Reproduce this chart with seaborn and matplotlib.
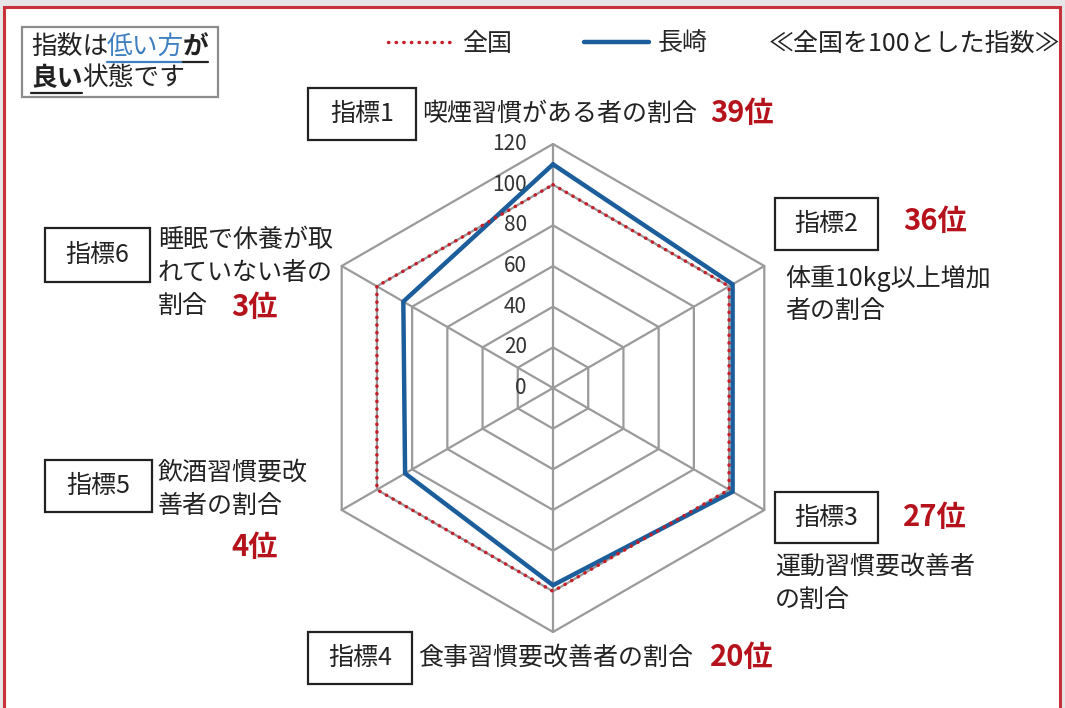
import numpy as np
import matplotlib
matplotlib.use("Agg")
import matplotlib.pyplot as plt
import matplotlib.transforms as mtransforms
from matplotlib.lines import Line2D
from matplotlib.patches import Rectangle
import pandas as pd
import seaborn as sns

# data (全国 = 100)
indicators = ['指標1', '指標2', '指標3', '指標4', '指標5', '指標6']
national = [100, 100, 100, 100, 100, 100]
nagasaki = [110, 102, 102, 97, 84, 85]
ranks = ['39位', '36位', '27位', '20位', '4位', '3位']
r_ticks = [0, 20, 40, 60, 80, 100, 120]
descriptions = [
    ['喫煙習慣がある者の割合'],
    ['体重10kg以上増加', '者の割合'],
    ['運動習慣要改善者', 'の割合'],
    ['食事習慣要改善者の割合'],
    ['飲酒習慣要改', '善者の割合'],
    ['睡眠で休養が取', 'れていない者の', '割合'],
]
series_names = ['全国', '長崎']

# layout (pixel positions on the 1065x708 canvas, y from top)
W, H = 1065, 708
box_pos = [(308, 88, 416, 140), (775, 198, 878, 250), (775, 492, 878, 543),
           (308, 632, 412, 684), (45, 460, 152, 512), (45, 228, 150, 282)]
desc_pos = [(422, 114), (785, 278), (775, 567), (418, 658), (158, 473), (158, 240)]
rank_pos = [(710, 113), (903, 221), (903, 517), (710, 657), (231, 547), (231, 307)]

RED = '#c41f2a'
BLUE = '#1b5e9b'
RANK = '#b5121b'
GRID = '#9a9a9a'
DOTS = (0, (0.1, 2.1))


def px(x, y):
    return x / W, 1 - y / H


sns.set_theme(style="white")
plt.rcParams['font.family'] = ['Noto Sans CJK JP', 'DejaVu Sans']

fig = plt.figure(figsize=(W / 100, H / 100), dpi=100)
fig.patch.set_facecolor('#e6e6e6')
fig.patches.append(Rectangle(px(4, 720), 1056 / W, 713 / H, transform=fig.transFigure,
                             facecolor='white', edgecolor='#c8303a', linewidth=2.2, zorder=-5))

# radar in a polar axes
ax = fig.add_axes([309 / W, 1 - 632 / H, 488 / W, 488 / H], projection='polar')
ax.set_theta_zero_location('N')
ax.set_theta_direction(-1)
ax.set_ylim(0, 120)
ax.set_axis_off()

angles = np.deg2rad(np.arange(0, 360, 60))
closed = np.append(angles, angles[0])

for r in r_ticks[1:]:
    ax.plot(closed, [r] * len(closed), color=GRID, lw=1.6, clip_on=False, zorder=1)
for a in angles:
    ax.plot([a, a], [0, r_ticks[-1]], color=GRID, lw=1.6, clip_on=False, zorder=1)

df = pd.DataFrame({
    'theta': np.concatenate([closed, closed]),
    'value': national + national[:1] + nagasaki + nagasaki[:1],
    'series': [series_names[0]] * 7 + [series_names[1]] * 7,
})
sns.lineplot(data=df[df.series == '長崎'], x='theta', y='value', sort=False, estimator=None,
             color=BLUE, lw=3.2, ax=ax, clip_on=False, zorder=3)
sns.lineplot(data=df[df.series == '全国'], x='theta', y='value', sort=False, estimator=None,
             color=RED, lw=2.5, ax=ax, clip_on=False, zorder=4,
             linestyle=DOTS, dash_capstyle='round')
ax.set_xlabel('')
ax.set_ylabel('')

off = mtransforms.offset_copy(ax.transData, fig=fig, x=-26, y=0, units='dots')
for r in r_ticks:
    ax.text(0, r, str(r), transform=off, ha='right', va='center', fontsize=15,
            color='#333333', zorder=2)

# indicator boxes, descriptions and ranks
for i, name in enumerate(indicators):
    x0, y0, x1, y1 = box_pos[i]
    fig.patches.append(Rectangle(px(x0, y1), (x1 - x0) / W, (y1 - y0) / H,
                                 transform=fig.transFigure, facecolor='white',
                                 edgecolor='#222222', linewidth=1.6))
    fig.text(*px((x0 + x1) / 2, (y0 + y1) / 2), name, ha='center', va='center',
             fontsize=18, color='#222222')
    dx, dy = desc_pos[i]
    for j, line in enumerate(descriptions[i]):
        fig.text(*px(dx, dy + 33 * j), line, ha='left', va='center', fontsize=18,
                 color='#222222')
    fig.text(*px(*rank_pos[i]), ranks[i], ha='left', va='center', fontsize=21,
             fontweight='bold', color=RANK)

# legend and note
handles = [Line2D([], [], color=RED, lw=2.5, linestyle=DOTS, dash_capstyle='round'),
           Line2D([], [], color=BLUE, lw=3.2)]
fig.legend(handles, series_names, loc='center left', bbox_to_anchor=px(388, 44), ncol=2,
           frameon=False, fontsize=18, handlelength=2.6, handletextpad=0.35,
           columnspacing=2.9, borderpad=0, borderaxespad=0)
fig.text(*px(1060, 44), '≪全国を100とした指数≫', ha='right', va='center', fontsize=18,
         color='#222222')

# top-left note box
fig.patches.append(Rectangle(px(22, 97), 196 / W, 70 / H, transform=fig.transFigure,
                             facecolor='white', edgecolor='#8c8c8c', linewidth=1.6))
fs = 18.5
fig.text(*px(31, 47), '指数は', ha='left', va='center', fontsize=fs, color='#222222')
fig.text(*px(107, 47), '低い方', ha='left', va='center', fontsize=fs, color='#3d7fc0')
fig.text(*px(183, 47), 'が', ha='left', va='center', fontsize=fs, color='#222222',
         fontweight='bold')
fig.text(*px(31, 78), '良い', ha='left', va='center', fontsize=fs, color='#222222',
         fontweight='bold')
fig.text(*px(82, 78), '状態です', ha='left', va='center', fontsize=fs, color='#222222')
fig.add_artist(Line2D([107 / W, 183 / W], [1 - 62 / H, 1 - 62 / H], color='#3d7fc0', lw=1.6))
fig.add_artist(Line2D([183 / W, 208 / W], [1 - 62 / H, 1 - 62 / H], color='#222222', lw=1.6))
fig.add_artist(Line2D([31 / W, 82 / W], [1 - 93 / H, 1 - 93 / H], color='#222222', lw=1.6))

fig.savefig('out.png', dpi=100)
